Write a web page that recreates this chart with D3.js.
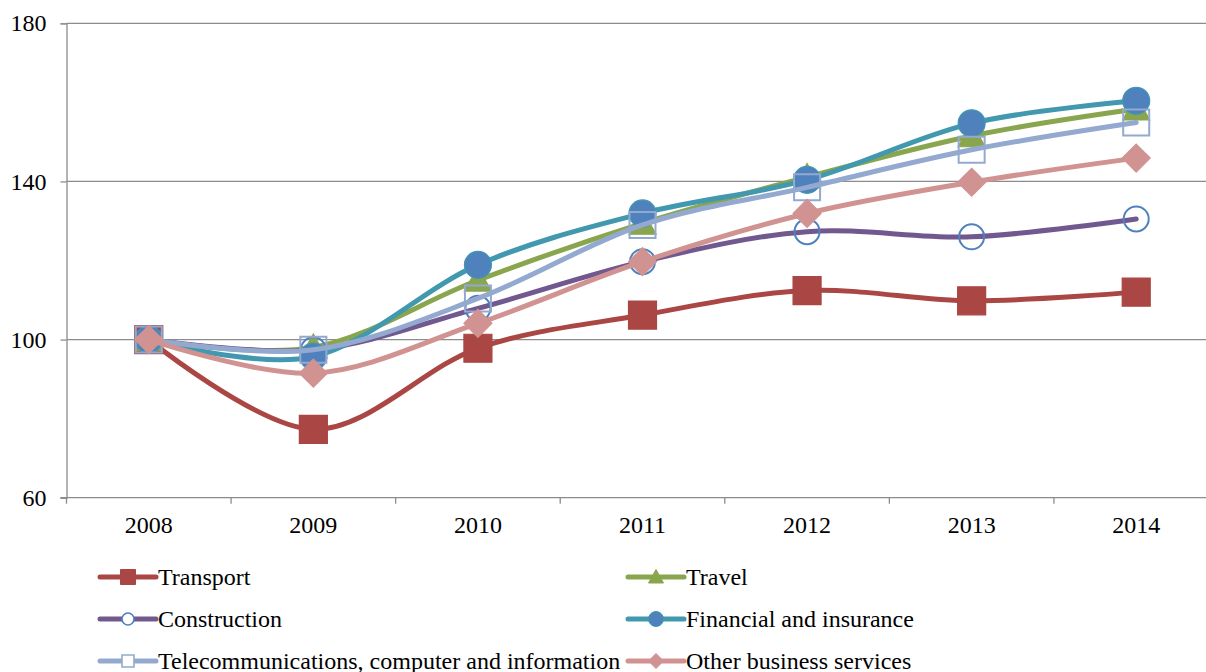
<!DOCTYPE html>
<html><head><meta charset="utf-8">
<script src="https://cdn.jsdelivr.net/npm/d3@7"></script>
<style>
html,body{margin:0;padding:0;background:#fff;}
svg{display:block;font-family:"Liberation Serif","Times New Roman",serif;}
</style></head>
<body>
<svg id="chart" width="1206" height="672"></svg>
<script>
const years = ["2008","2009","2010","2011","2012","2013","2014"];
const yTicks = [60, 100, 140, 180];
const transport = [100, 77.3, 97.8, 106.2, 112.4, 109.8, 112.0];
const travel = [100, 98.0, 115.0, 129.4, 141.1, 151.5, 158.3];
const construction = [100, 97.4, 107.9, 119.7, 127.3, 126.0, 130.5];
const financial = [100, 95.7, 118.9, 131.9, 140.4, 154.7, 160.4];
const telecom = [100, 97.4, 110.4, 129.0, 138.5, 148.0, 154.9];
const otherBusiness = [100, 91.5, 104.1, 119.7, 131.9, 139.8, 145.9];
const seriesNames = ["Transport","Travel","Construction","Financial and insurance","Telecommunications, computer and information","Other business services"];

(function(){
const series = [
  {name: seriesNames[0], values: transport, line:"#AA4643", marker:"square", fill:"#AA4643", stroke:"#AA4643"},
  {name: seriesNames[1], values: travel, line:"#89A54E", marker:"triangle", fill:"#89A54E", stroke:"#89A54E"},
  {name: seriesNames[2], values: construction, line:"#71588F", marker:"circle", fill:"none", stroke:"#4F81BD"},
  {name: seriesNames[3], values: financial, line:"#4198AF", marker:"circle", fill:"#4F81BD", stroke:"#4198AF"},
  {name: seriesNames[4], values: telecom, line:"#93A9CF", marker:"square", fill:"none", stroke:"#93A9CF"},
  {name: seriesNames[5], values: otherBusiness, line:"#D19392", marker:"diamond", fill:"#D19392", stroke:"#D19392"}
];

const svg = d3.select("#chart");
const pL = 66.5, pR = 1218.5, pT = 23.3, pB = 497.7;
const x = d3.scaleBand().domain(years).range([pL, pR]).padding(0);
const y = d3.scaleLinear().domain([60, 180]).range([pB, pT]);
const cx = d => x(d) + x.bandwidth()/2;

// gridlines
svg.append("g").selectAll("line").data(yTicks.slice(1)).join("line")
  .attr("x1", pL).attr("x2", 1206).attr("y1", d=>y(d)).attr("y2", d=>y(d))
  .attr("stroke", "#8c8c8c").attr("stroke-width", 1.3);

// y axis
const yAxis = svg.append("g").attr("transform", `translate(${pL},0)`)
  .call(d3.axisLeft(y).tickValues(yTicks).tickSize(6).tickPadding(14).tickFormat(d3.format("d")));
yAxis.select(".domain").attr("stroke", "#8c8c8c").attr("stroke-width", 1.3);
yAxis.selectAll(".tick line").attr("stroke", "#8c8c8c").attr("stroke-width", 1.3);
yAxis.selectAll("text").attr("font-size", "24px").attr("font-family", "Liberation Serif").attr("fill", "#000");

// x axis
const xAxis = svg.append("g").attr("transform", `translate(0,${pB})`)
  .call(d3.axisBottom(x).tickSize(0).tickPadding(18));
xAxis.select(".domain").remove();
xAxis.append("line").attr("x1", pL - 6).attr("x2", 1206).attr("y1", 0).attr("y2", 0)
  .attr("stroke", "#8c8c8c").attr("stroke-width", 1.3);
xAxis.selectAll(".tick text").attr("font-size", "24px").attr("font-family", "Liberation Serif").attr("fill", "#000");
const edges = years.map(d => x(d)).concat([pR]);
xAxis.append("g").selectAll("line").data(edges).join("line")
  .attr("x1", d=>d).attr("x2", d=>d).attr("y1", 0).attr("y2", 6)
  .attr("stroke", "#8c8c8c").attr("stroke-width", 1.3);

function markerPath(type, s) {
  const h = s/2;
  if (type === "square") return `M${-h},${-h}H${h}V${h}H${-h}Z`;
  if (type === "diamond") return `M0,${-h}L${h},0L0,${h}L${-h},0Z`;
  if (type === "triangle") return `M0,${-h}L${h},${h*0.8}L${-h},${h*0.8}Z`;
  if (type === "circle") return `M${h},0A${h},${h} 0 1,1 ${-h},0A${h},${h} 0 1,1 ${h},0Z`;
}

const line = d3.line().x((d,i)=>cx(years[i])).y(d=>y(d)).curve(d3.curveCatmullRom.alpha(0));
const markerSize = {square: 28, diamond: 28, triangle: 27, circle: 27};

series.forEach(s => {
  const g = svg.append("g");
  g.append("path").attr("d", line(s.values)).attr("fill", "none")
    .attr("stroke", s.line).attr("stroke-width", 5).attr("stroke-linecap", "round");
  g.selectAll("path.m").data(s.values).join("path").attr("class", "m")
    .attr("transform", (d,i)=>`translate(${cx(years[i])},${y(d)})`)
    .attr("d", markerPath(s.marker, markerSize[s.marker] - (s.fill==="none"?2:0)))
    .attr("fill", s.fill)
    .attr("stroke", s.stroke).attr("stroke-width", s.fill==="none" ? 2 : 1.2);
});

// legend
const legendX = [100, 628];
const legendY = [577, 619, 661];
series.forEach((s, i) => {
  const lx = legendX[i % 2], ly = legendY[Math.floor(i/2)];
  const g = svg.append("g").attr("transform", `translate(${lx},${ly})`);
  g.append("line").attr("x1", 0).attr("x2", 56).attr("y1", 0).attr("y2", 0)
    .attr("stroke", s.line).attr("stroke-width", 5).attr("stroke-linecap", "round");
  g.append("path").attr("transform", "translate(28,0)")
    .attr("d", markerPath(s.marker, s.fill==="none" ? 12 : 15))
    .attr("fill", s.fill === "none" ? "#fff" : s.fill)
    .attr("stroke", s.stroke).attr("stroke-width", s.fill==="none" ? 1.6 : 1);
  g.append("text").attr("x", 58).attr("y", 0).attr("dy", "0.35em")
    .attr("font-size", "24px").attr("fill", "#000").text(s.name);
});
})();
</script>
</body></html>
